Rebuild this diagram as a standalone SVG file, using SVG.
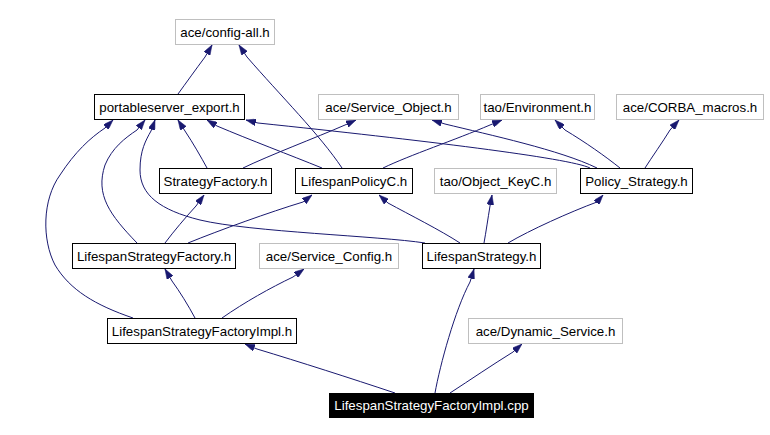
<svg xmlns="http://www.w3.org/2000/svg" width="770" height="435" viewBox="0 0 770 435">
<style>
.n rect{fill:#ffffff;stroke:#000000;stroke-width:1}
.g rect{fill:#ffffff;stroke:#bfbfbf;stroke-width:1}
.n text,.g text{font-family:"Liberation Sans",Arial,sans-serif;font-size:13.3px;fill:#000000;text-anchor:middle}
.c rect{fill:#000000;stroke:none}
.c text{font-family:"Liberation Sans",Arial,sans-serif;font-size:13.3px;fill:#ffffff;text-anchor:middle}
#edges path{fill:none;stroke:#191970;stroke-width:1;marker-end:url(#ah)}
</style>
<defs>
<marker id="ah" markerUnits="userSpaceOnUse" viewBox="0 0 10 7" refX="10" refY="3.5" markerWidth="10" markerHeight="7" orient="auto">
<path d="M0,0 L10,3.5 L0,7 z" fill="#191970" stroke="#191970" stroke-width="0.5"/>
</marker>
</defs>
<rect x="0" y="0" width="770" height="435" fill="#ffffff"/>
<g id="edges">
<path d="M178,94 C186,83 196,69 205,57 L212,45"/>
<path d="M342,168 C320,135 280,95 247,57 L239,45"/>
<path d="M207,168 C201,157 193,143 185,131 L178,120"/>
<path d="M322,168 C290,155 250,140 217,126 L207,120"/>
<path d="M590,168 C570,158 420,140 258,123 L246,120"/>
<path d="M243,168 C270,155 315,138 345,125 L356,120"/>
<path d="M383,168 C410,155 455,140 490,125 L502,120"/>
<path d="M597,168 C560,150 490,135 445,124 L432,120"/>
<path d="M620,168 C605,156 585,142 565,130 L555,120"/>
<path d="M645,168 C652,157 662,143 670,130 L679,120"/>
<path d="M137,243 C110,215 95,195 105,165 C112,148 125,138 137,130 L145,120"/>
<path d="M165,243 C174,231 185,218 196,206 L204,195"/>
<path d="M188,243 C220,230 270,212 303,202 L312,195"/>
<path d="M425,243 C380,236 250,232 200,220 C160,210 140,195 140,170 C140,150 146,140 151,131 L155,120"/>
<path d="M460,243 C440,230 410,215 388,203 L379,195"/>
<path d="M484,243 C486,232 488,218 490,206 L492,195"/>
<path d="M508,243 C530,230 570,212 597,202 L603,195"/>
<path d="M133,318 C95,305 70,290 55,265 C42,240 42,200 60,175 C75,152 90,138 105,128 L113,120"/>
<path d="M195,318 C188,305 180,292 172,281 L165,269"/>
<path d="M222,318 C245,302 270,288 293,277 L304,269"/>
<path d="M395,393 C350,378 300,362 257,349 L245,344"/>
<path d="M435,393 C440,365 455,310 470,282 L474,269"/>
<path d="M450,393 C470,380 492,365 513,352 L522,344"/>
</g>
<g id="node_config_all" class="g"><rect x="175.5" y="19.5" width="99" height="25"/><text x="225" y="36.5">ace/config-all.h</text></g>
<g id="node_portableserver_export" class="n"><rect x="94.5" y="94.5" width="150" height="25"/><text x="169.5" y="111.5">portableserver_export.h</text></g>
<g id="node_service_object" class="g"><rect x="318.5" y="94.5" width="140" height="25"/><text x="388.5" y="111.5">ace/Service_Object.h</text></g>
<g id="node_environment" class="g"><rect x="480.5" y="94.5" width="114" height="25"/><text x="537.5" y="111.5">tao/Environment.h</text></g>
<g id="node_corba_macros" class="g"><rect x="616.5" y="94.5" width="147" height="25"/><text x="690" y="111.5">ace/CORBA_macros.h</text></g>
<g id="node_strategyfactory" class="n"><rect x="159.5" y="168.5" width="112" height="25"/><text x="215.5" y="185.5">StrategyFactory.h</text></g>
<g id="node_lifespanpolicyc" class="n"><rect x="295.5" y="168.5" width="117" height="25"/><text x="354" y="185.5">LifespanPolicyC.h</text></g>
<g id="node_object_keyc" class="g"><rect x="434.5" y="168.5" width="122" height="25"/><text x="495.5" y="185.5">tao/Object_KeyC.h</text></g>
<g id="node_policy_strategy" class="n"><rect x="580.5" y="168.5" width="112" height="25"/><text x="636.5" y="185.5">Policy_Strategy.h</text></g>
<g id="node_lifespanstrategyfactory" class="n"><rect x="72.5" y="243.5" width="163" height="25"/><text x="154" y="260.5">LifespanStrategyFactory.h</text></g>
<g id="node_service_config" class="g"><rect x="259.5" y="243.5" width="139" height="25"/><text x="329" y="260.5">ace/Service_Config.h</text></g>
<g id="node_lifespanstrategy" class="n"><rect x="422.5" y="243.5" width="118" height="25"/><text x="481.5" y="260.5">LifespanStrategy.h</text></g>
<g id="node_lifespanstrategyfactoryimpl_h" class="n"><rect x="107.5" y="318.5" width="189" height="25"/><text x="202" y="335.5">LifespanStrategyFactoryImpl.h</text></g>
<g id="node_dynamic_service" class="g"><rect x="468.5" y="318.5" width="154" height="25"/><text x="545.5" y="335.5">ace/Dynamic_Service.h</text></g>
<g id="node_lifespanstrategyfactoryimpl_cpp" class="c"><rect x="329" y="393" width="205" height="25"/><text x="431.5" y="410">LifespanStrategyFactoryImpl.cpp</text></g>
</svg>
